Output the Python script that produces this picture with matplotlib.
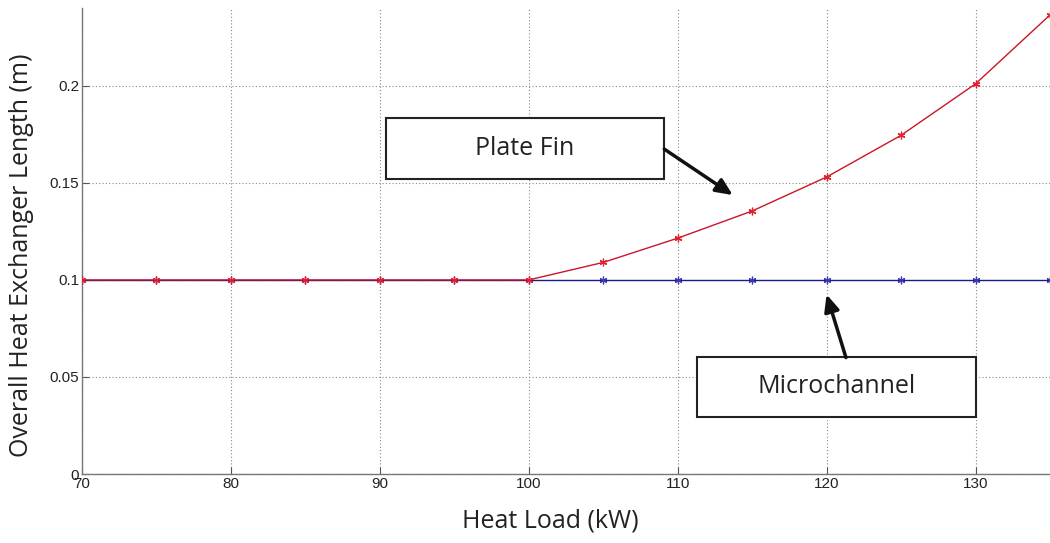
import matplotlib
matplotlib.use("Agg")
import matplotlib.pyplot as plt
from matplotlib.patches import Rectangle

heat_load = [70, 75, 80, 85, 90, 95, 100, 105, 110, 115, 120, 125, 130, 135]
plate_fin = [0.1, 0.1, 0.1, 0.1, 0.1, 0.1, 0.1, 0.109, 0.1215, 0.1355, 0.1530, 0.1745, 0.2010, 0.2365]
microchannel = [0.1] * len(heat_load)
xticks = [70, 80, 90, 100, 110, 120, 130]
yticks = [0, 0.05, 0.1, 0.15, 0.2]
ytick_labels = ["0", "0.05", "0.1", "0.15", "0.2"]

fig = plt.figure(figsize=(10.5, 5.43), dpi=100)
ax = fig.add_axes([0.078, 0.127, 0.922, 0.858])

ax.plot(heat_load, microchannel, color="#1a1a8c", lw=1.0, marker=(6, 2, 0),
        ms=5.5, mec="#3a3ab0", mew=0.9, zorder=3)
ax.plot(heat_load, plate_fin, color="#cc1528", lw=1.0, marker=(6, 2, 0),
        ms=5.5, mec="#e02030", mew=0.9, zorder=4)

ax.set_xlim(70, 135)
ax.set_ylim(0, 0.24)
ax.set_xticks(xticks)
ax.set_yticks(yticks)
ax.set_yticklabels(ytick_labels)
tick_font = ["Liberation Sans", "DejaVu Sans"]
for lab in ax.get_xticklabels() + ax.get_yticklabels():
    lab.set_fontfamily(tick_font)
    lab.set_fontsize(11)
    lab.set_color("#222222")
ax.tick_params(direction="in", length=5, width=0.8, color="#555555", pad=2)
ax.grid(True, linestyle=(0, (1, 2)), color="#888888", lw=0.8)
for s in ["top", "right"]:
    ax.spines[s].set_visible(False)
for s in ["left", "bottom"]:
    ax.spines[s].set_color("#777777")
    ax.spines[s].set_linewidth(1.0)

lab_font = ["Open Sans", "DejaVu Sans"]
ax.set_ylabel("Overall Heat Exchanger Length (m)", fontsize=18, family=lab_font,
              color="#222222")
ax.set_xlabel("Heat Load (kW)", fontsize=18, family=lab_font, color="#222222")
ax.yaxis.set_label_coords(-0.049, 0.47)
ax.xaxis.set_label_coords(0.4835, -0.075)

# annotation boxes
boxes = [
    ("Plate Fin", (90.4, 0.1519), 18.7, 0.0316, (109.1, 0.1674), (113.7, 0.1437)),
    ("Microchannel", (111.3, 0.0295), 18.7, 0.0310, (121.3, 0.0600), (120.0, 0.0925)),
]
for text, (bx, by), bw, bh, start, tip in boxes:
    ax.add_patch(Rectangle((bx, by), bw, bh, facecolor="white", edgecolor="#222222",
                           lw=1.5, zorder=6))
    ax.text(bx + bw / 2, by + bh / 2, text, ha="center", va="center", fontsize=18,
            family=lab_font, color="#222222", zorder=7)
    ax.annotate("", xy=tip, xytext=start, zorder=8,
                arrowprops=dict(arrowstyle="-|>,head_length=1.0,head_width=0.45",
                                color="#111111", lw=2.5, shrinkA=0, shrinkB=0))

fig.savefig("out.png", dpi=100)
